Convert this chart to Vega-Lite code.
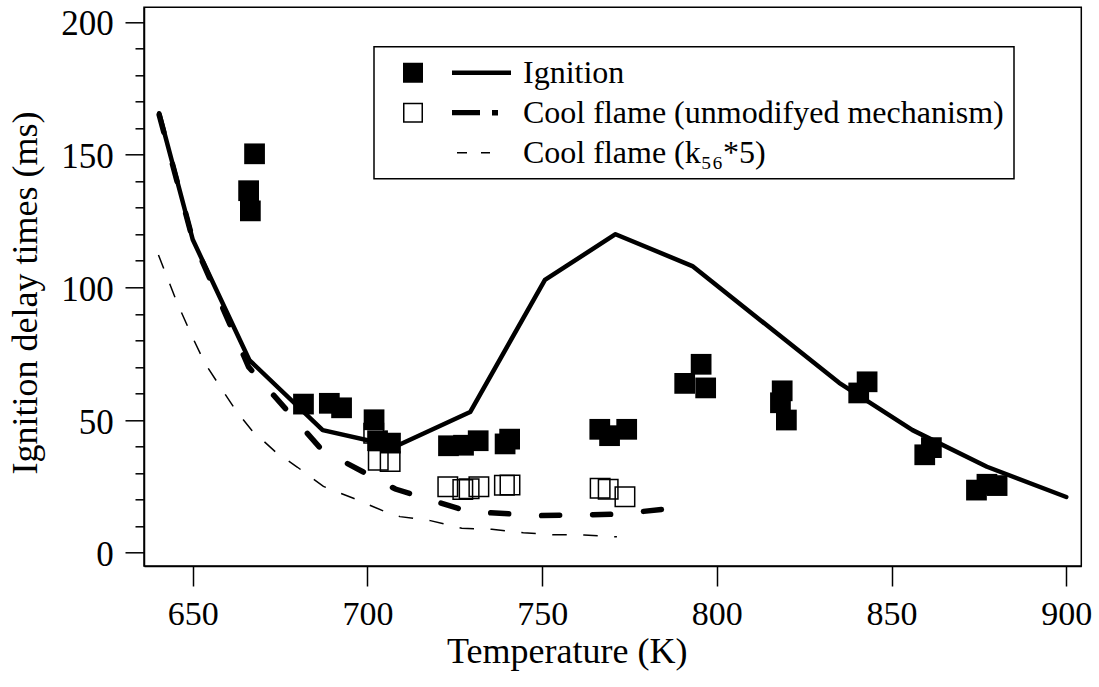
{
  "$schema": "https://vega.github.io/schema/vega-lite/v6.json",
  "width": 937.3,
  "height": 558.7,
  "autosize": {"type": "none"},
  "padding": {"left": 144, "top": 7.3, "right": 17.7, "bottom": 121},
  "background": "white",
  "config": {
    "font": "Liberation Serif",
    "view": {"stroke": "black", "strokeWidth": 1.5},
    "axis": {"grid": false, "domainColor": "black", "domainWidth": 1.5, "tickColor": "black", "tickWidth": 1.5, "labelColor": "black", "titleColor": "black", "labelFont": "Liberation Serif", "titleFont": "Liberation Serif", "titleFontWeight": "normal"},
    "legend": {"strokeWidth": 1.5}
  },
  "datasets": {
    "exp": [
      {"T": 667.7, "tau": 150.3, "type": "Ignition"},
      {"T": 666.0, "tau": 136.4, "type": "Ignition"},
      {"T": 666.5, "tau": 128.8, "type": "Ignition"},
      {"T": 681.7, "tau": 56.0, "type": "Ignition"},
      {"T": 689.1, "tau": 56.3, "type": "Ignition"},
      {"T": 692.6, "tau": 54.6, "type": "Ignition"},
      {"T": 701.9, "tau": 50.1, "type": "Ignition"},
      {"T": 702.9, "tau": 42.2, "type": "Ignition"},
      {"T": 706.6, "tau": 41.3, "type": "Ignition"},
      {"T": 723.2, "tau": 40.3, "type": "Ignition"},
      {"T": 727.5, "tau": 40.5, "type": "Ignition"},
      {"T": 731.7, "tau": 42.2, "type": "Ignition"},
      {"T": 739.4, "tau": 41.0, "type": "Ignition"},
      {"T": 740.7, "tau": 42.8, "type": "Ignition"},
      {"T": 766.5, "tau": 46.5, "type": "Ignition"},
      {"T": 769.3, "tau": 44.1, "type": "Ignition"},
      {"T": 774.2, "tau": 46.5, "type": "Ignition"},
      {"T": 790.8, "tau": 63.8, "type": "Ignition"},
      {"T": 795.5, "tau": 71.0, "type": "Ignition"},
      {"T": 796.8, "tau": 62.1, "type": "Ignition"},
      {"T": 818.7, "tau": 61.0, "type": "Ignition"},
      {"T": 818.2, "tau": 56.5, "type": "Ignition"},
      {"T": 819.9, "tau": 50.0, "type": "Ignition"},
      {"T": 840.6, "tau": 60.2, "type": "Ignition"},
      {"T": 843.0, "tau": 64.4, "type": "Ignition"},
      {"T": 859.5, "tau": 36.9, "type": "Ignition"},
      {"T": 861.4, "tau": 39.6, "type": "Ignition"},
      {"T": 874.3, "tau": 23.6, "type": "Ignition"},
      {"T": 877.3, "tau": 25.8, "type": "Ignition"},
      {"T": 880.2, "tau": 25.3, "type": "Ignition"},
      {"T": 701.8, "tau": 45.0, "type": "Cool flame"},
      {"T": 703.1, "tau": 34.8, "type": "Cool flame"},
      {"T": 706.5, "tau": 34.4, "type": "Cool flame"},
      {"T": 723.0, "tau": 24.9, "type": "Cool flame"},
      {"T": 727.3, "tau": 23.8, "type": "Cool flame"},
      {"T": 729.1, "tau": 24.1, "type": "Cool flame"},
      {"T": 731.9, "tau": 24.9, "type": "Cool flame"},
      {"T": 739.2, "tau": 25.4, "type": "Cool flame"},
      {"T": 740.8, "tau": 25.5, "type": "Cool flame"},
      {"T": 766.6, "tau": 24.3, "type": "Cool flame"},
      {"T": 768.9, "tau": 23.9, "type": "Cool flame"},
      {"T": 773.7, "tau": 21.1, "type": "Cool flame"}
    ],
    "model": [
      {"T": 640.4, "tau": 165.6, "series": "Ignition"},
      {"T": 650.0, "tau": 118.0, "series": "Ignition"},
      {"T": 666.2, "tau": 72.6, "series": "Ignition"},
      {"T": 687.2, "tau": 46.2, "series": "Ignition"},
      {"T": 708.0, "tau": 40.0, "series": "Ignition"},
      {"T": 729.4, "tau": 53.0, "series": "Ignition"},
      {"T": 750.8, "tau": 102.8, "series": "Ignition"},
      {"T": 771.0, "tau": 120.0, "series": "Ignition"},
      {"T": 793.0, "tau": 108.0, "series": "Ignition"},
      {"T": 835.0, "tau": 64.0, "series": "Ignition"},
      {"T": 856.0, "tau": 46.2, "series": "Ignition"},
      {"T": 877.3, "tau": 32.4, "series": "Ignition"},
      {"T": 900.0, "tau": 21.0, "series": "Ignition"},
      {"T": 640.4, "tau": 165.0, "series": "Cool flame (unmodifyed mechanism)"},
      {"T": 650.0, "tau": 118.0, "series": "Cool flame (unmodifyed mechanism)"},
      {"T": 666.0, "tau": 70.0, "series": "Cool flame (unmodifyed mechanism)"},
      {"T": 687.0, "tau": 38.7, "series": "Cool flame (unmodifyed mechanism)"},
      {"T": 708.0, "tau": 24.0, "series": "Cool flame (unmodifyed mechanism)"},
      {"T": 729.0, "tau": 15.5, "series": "Cool flame (unmodifyed mechanism)"},
      {"T": 750.0, "tau": 14.0, "series": "Cool flame (unmodifyed mechanism)"},
      {"T": 771.0, "tau": 14.5, "series": "Cool flame (unmodifyed mechanism)"},
      {"T": 791.0, "tau": 17.2, "series": "Cool flame (unmodifyed mechanism)"},
      {"T": 640.2, "tau": 112.2, "series": "Cool flame (k₅₆*5)"},
      {"T": 645.4, "tau": 94.6, "series": "Cool flame (k₅₆*5)"},
      {"T": 650.0, "tau": 81.0, "series": "Cool flame (k₅₆*5)"},
      {"T": 653.5, "tau": 71.4, "series": "Cool flame (k₅₆*5)"},
      {"T": 657.0, "tau": 64.3, "series": "Cool flame (k₅₆*5)"},
      {"T": 662.6, "tau": 53.1, "series": "Cool flame (k₅₆*5)"},
      {"T": 667.0, "tau": 46.0, "series": "Cool flame (k₅₆*5)"},
      {"T": 673.6, "tau": 38.1, "series": "Cool flame (k₅₆*5)"},
      {"T": 680.0, "tau": 32.2, "series": "Cool flame (k₅₆*5)"},
      {"T": 687.4, "tau": 25.0, "series": "Cool flame (k₅₆*5)"},
      {"T": 696.0, "tau": 20.5, "series": "Cool flame (k₅₆*5)"},
      {"T": 705.0, "tau": 15.5, "series": "Cool flame (k₅₆*5)"},
      {"T": 709.3, "tau": 13.6, "series": "Cool flame (k₅₆*5)"},
      {"T": 718.0, "tau": 12.1, "series": "Cool flame (k₅₆*5)"},
      {"T": 727.0, "tau": 9.2, "series": "Cool flame (k₅₆*5)"},
      {"T": 735.6, "tau": 8.8, "series": "Cool flame (k₅₆*5)"},
      {"T": 744.6, "tau": 7.5, "series": "Cool flame (k₅₆*5)"},
      {"T": 753.0, "tau": 6.8, "series": "Cool flame (k₅₆*5)"},
      {"T": 762.0, "tau": 6.7, "series": "Cool flame (k₅₆*5)"},
      {"T": 771.4, "tau": 6.0, "series": "Cool flame (k₅₆*5)"}
    ]
  },
  "encoding": {
    "x": {
      "field": "T", "type": "quantitative",
      "scale": {"domain": [636.06, 904.3], "nice": false, "zero": false},
      "axis": {
        "values": [650, 700, 750, 800, 850, 900],
        "tickSize": 20, "labelFontSize": 34, "labelPadding": 11, "labelFlush": false, "labelOverlap": false,
        "title": "Temperature (K)", "titleFontSize": 36, "titleX": 422.7, "titleY": 96,
        "titleBaseline": "alphabetic", "titleAlign": "center", "titleAnchor": null
      }
    },
    "y": {
      "field": "tau", "type": "quantitative",
      "scale": {"domain": [-5, 205.5], "nice": false, "zero": false},
      "axis": {
        "values": [0, 10, 20, 30, 40, 50, 60, 70, 80, 90, 100, 110, 120, 130, 140, 150, 160, 170, 180, 190, 200],
        "tickSize": {"condition": {"test": "datum.value % 50 === 0", "value": 19}, "value": 9},
        "labelExpr": "datum.value % 50 === 0 ? datum.label : ''",
        "labelFontSize": 35, "labelPadding": 11.7, "labelOffset": 2, "labelOverlap": false,
        "title": "Ignition delay times (ms)", "titleFontSize": 36, "titleAngle": 270,
        "titleX": -107.3, "titleY": 285.2, "titleBaseline": "alphabetic", "titleAlign": "center", "titleAnchor": null
      }
    }
  },
  "layer": [
    {
      "data": {"name": "exp"},
      "transform": [{"filter": "datum.type === 'Cool flame'"}],
      "mark": {"type": "point", "shape": "square", "filled": false, "stroke": "black", "fill": null, "strokeWidth": 1.5, "size": 380, "opacity": 1}
    },
    {
      "data": {"name": "exp"},
      "transform": [{"filter": "datum.type === 'Ignition'"}],
      "mark": {"type": "point", "shape": "square", "filled": true, "color": "black", "strokeWidth": 0, "size": 430, "opacity": 1}
    },
    {
      "data": {"name": "model"},
      "transform": [{"filter": "datum.series === 'Ignition'"}],
      "mark": {"type": "line", "color": "black", "strokeWidth": 4.5, "strokeJoin": "round", "strokeCap": "round"}
    },
    {
      "data": {"name": "model"},
      "transform": [{"filter": "datum.series === 'Cool flame (unmodifyed mechanism)'"}],
      "mark": {"type": "line", "color": "black", "strokeWidth": 5.5, "strokeDash": [18, 33], "strokeCap": "round"}
    },
    {
      "data": {"name": "model"},
      "transform": [{"filter": "datum.series === 'Cool flame (k₅₆*5)'"}],
      "mark": {"type": "line", "color": "black", "strokeWidth": 1.5, "strokeDash": [14.5, 16.5]}
    },
    {
      "data": {"name": "model"},
      "mark": {"type": "point", "filled": true, "color": "black", "size": 0, "strokeWidth": 0},
      "encoding": {
        "shape": {
          "field": "series", "type": "nominal",
          "scale": {
            "domain": ["Ignition", "Cool flame (unmodifyed mechanism)", "Cool flame (k₅₆*5)"],
            "range": [
              "M0.1875,-0.625H1.4375V0.625H0.1875ZM3.25,-0.1375H6.9375V0.1375H3.25Z",
              "M0.1875,-0.625H1.4375V0.625H0.1875ZM0.28125,-0.53125V0.53125H1.34375V-0.53125ZM3.25,-0.1625H5V0.1625H3.25ZM5.75,-0.175H6.125V0.175H5.75Z",
              "M3.5625,-0.05H4.1875V0.05H3.5625ZM5.0625,-0.05H5.625V0.05H5.0625Z"
            ]
          },
          "legend": {
            "title": null, "orient": "none", "legendX": 230, "legendY": 39.4, "direction": "vertical",
            "padding": 10, "strokeColor": "black", "fillColor": "white",
            "symbolSize": 1024, "symbolStrokeWidth": 0, "symbolFillColor": "black", "symbolOpacity": 1,
            "symbolOffset": 0, "labelOffset": 107, "rowPadding": 8,
            "labelFont": "Liberation Serif", "labelFontSize": 32, "labelColor": "black", "labelLimit": 700,
            "labelExpr": "datum.value === 'Cool flame (k₅₆*5)' ? '\u2009' + datum.label : datum.label"
          }
        }
      }
    }
  ]
}
